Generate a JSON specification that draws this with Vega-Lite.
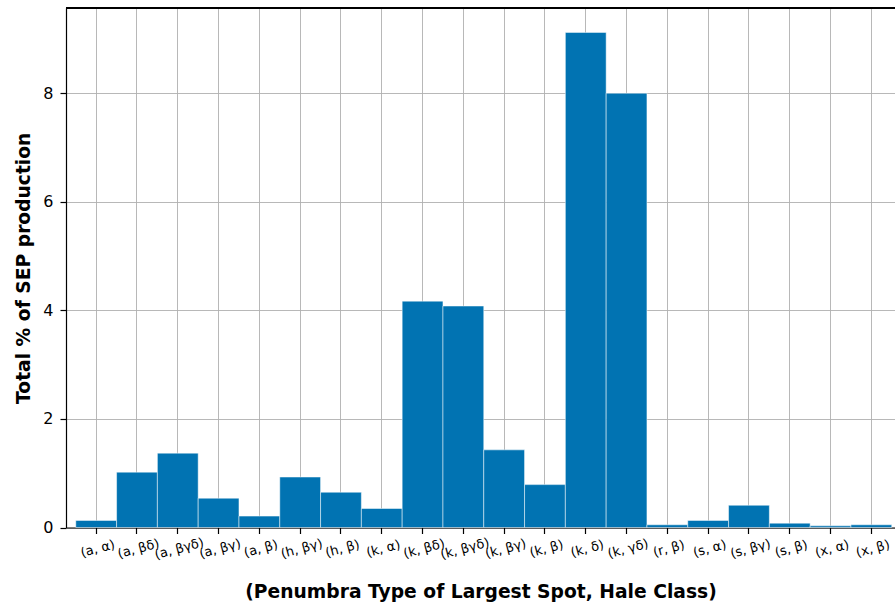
{
  "$schema": "https://vega.github.io/schema/vega-lite/v6.json",
  "autosize": {"type": "none"},
  "padding": {"left": 66, "top": 8, "right": 0, "bottom": 79.5},
  "width": 829,
  "height": 519.5,
  "config": {
    "font": "DejaVu Sans",
    "view": {"stroke": null},
    "axis": {
      "zindex": 1,
      "domainColor": "black",
      "domainWidth": 1.2,
      "tickColor": "black",
      "tickSize": 6,
      "tickWidth": 1.2,
      "gridColor": "#b0b0b0",
      "gridWidth": 1,
      "gridOpacity": 0.9,
      "labelColor": "black",
      "titleColor": "black",
      "labelFont": "DejaVu Sans",
      "titleFont": "DejaVu Sans"
    }
  },
  "data": {
    "values": [
      {"group": "(a, α)", "pct": 0.13},
      {"group": "(a, βδ)", "pct": 1.02},
      {"group": "(a, βγδ)", "pct": 1.37},
      {"group": "(a, βγ)", "pct": 0.54},
      {"group": "(a, β)", "pct": 0.21},
      {"group": "(h, βγ)", "pct": 0.93},
      {"group": "(h, β)", "pct": 0.65},
      {"group": "(k, α)", "pct": 0.35},
      {"group": "(k, βδ)", "pct": 4.17},
      {"group": "(k, βγδ)", "pct": 4.08},
      {"group": "(k, βγ)", "pct": 1.43},
      {"group": "(k, β)", "pct": 0.79},
      {"group": "(k, δ)", "pct": 9.12},
      {"group": "(k, γδ)", "pct": 8.0},
      {"group": "(r, β)", "pct": 0.05},
      {"group": "(s, α)", "pct": 0.13},
      {"group": "(s, βγ)", "pct": 0.41},
      {"group": "(s, β)", "pct": 0.08},
      {"group": "(x, α)", "pct": 0.03},
      {"group": "(x, β)", "pct": 0.05}
    ]
  },
  "layer": [
    {
      "mark": {"type": "bar", "color": "#0173b2", "stroke": "white", "strokeWidth": 0.7, "strokeOpacity": 0.7},
      "encoding": {
        "x": {
          "field": "group",
          "type": "nominal",
          "sort": null,
          "scale": {"paddingInner": 0, "paddingOuter": 0.16, "align": 0.75},
          "axis": {
            "title": "(Penumbra Type of Largest Spot, Hale Class)",
            "titleFontSize": 18.7,
            "titleFontWeight": "bold",
            "titlePadding": 21,
            "labelAngle": -15,
            "labelAlign": "center",
            "labelBaseline": "top",
            "labelFontSize": 13,
            "labelPadding": 9,
            "grid": true
          }
        },
        "y": {
          "field": "pct",
          "type": "quantitative",
          "scale": {"domain": [0, 9.57], "nice": false, "zero": true},
          "axis": {
            "title": "Total % of SEP production",
            "titleFontSize": 18.7,
            "titleFontWeight": "bold",
            "titlePadding": 9,
            "values": [0, 2, 4, 6, 8],
            "labelFontSize": 16,
            "labelPadding": 7,
            "grid": true
          }
        }
      }
    },
    {
      "mark": {"type": "rule", "color": "black", "strokeWidth": 1.2},
      "encoding": {"y": {"datum": 9.57}}
    }
  ]
}
